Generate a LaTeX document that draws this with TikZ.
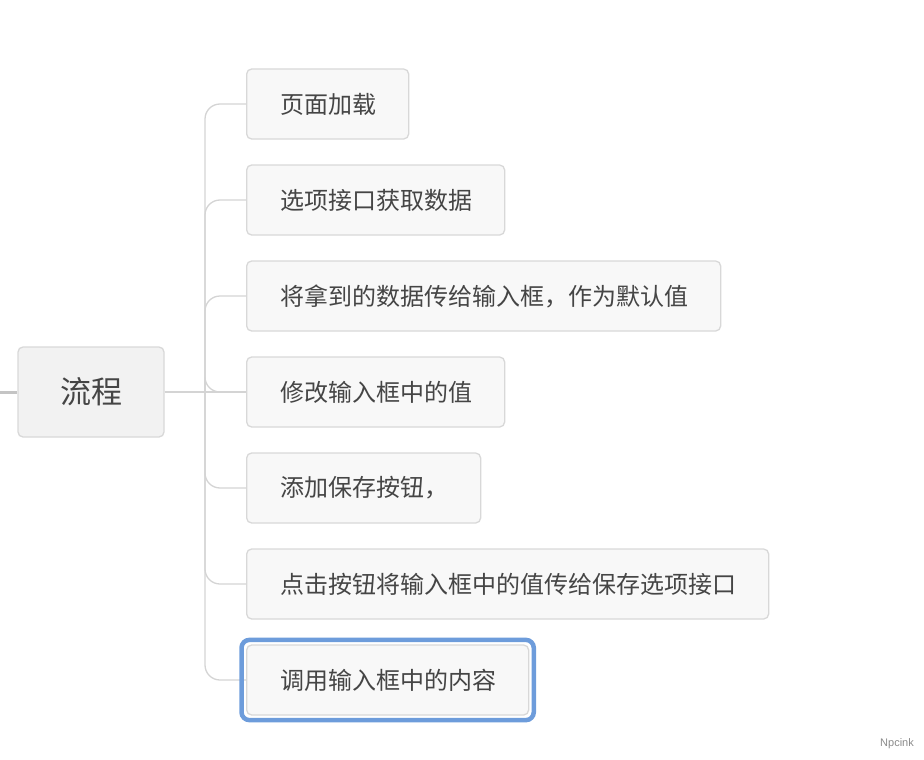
\documentclass[tikz,border=0pt]{standalone}
\usepackage{fontspec}
\setmainfont{Noto Sans CJK SC}
\newfontfamily\signfont{Liberation Sans}
\usepackage{xcolor}
\usepackage{tikz}
\usetikzlibrary{positioning,fit}
\definecolor{boxbg}{HTML}{F8F8F8}
\definecolor{rootbg}{HTML}{F2F2F2}
\definecolor{edge}{HTML}{D8D8D8}
\definecolor{txt}{HTML}{454545}
\definecolor{wire}{HTML}{D4D4D4}
\definecolor{stubc}{HTML}{C4C4C4}
\definecolor{sel}{HTML}{6D9CDB}
\definecolor{signc}{HTML}{8A8A8A}
\tikzset{
  topic/.style={draw=edge, fill=boxbg, line width=1.3pt, rounded corners=5pt, text=txt,
    font=\fontsize{24}{30}\selectfont, minimum height=70pt, inner xsep=34pt, align=left, anchor=west},
  root/.style={draw=edge, fill=rootbg, line width=1.3pt, rounded corners=5pt, text=txt,
    font=\fontsize{31}{36}\selectfont, minimum width=146pt, minimum height=90pt, inner sep=0pt},
  link/.style={draw=wire, line width=1.3pt, rounded corners=15pt},
  stub/.style={draw=stubc, line width=3pt},
  hilite/.style={draw=sel, line width=4.5pt, rounded corners=8pt},
  tag/.style={text=signc, font=\signfont\fontsize{11}{13}\selectfont},
}
\begin{document}
\begin{tikzpicture}[x=1pt,y=-1pt]
  \useasboundingbox (0,0) rectangle (924,760);

  % root and the stub on its left
  \coordinate (edgeL) at (0,392);
  \node[root] (flow) at (91,392) {流程};
  \draw[stub] (edgeL) -- (flow.west);

  % steps, with their box widths
  \foreach \i/\w/\txt in {1/162/页面加载, 2/258/选项接口获取数据,
      3/474/将拿到的数据传给输入框，作为默认值, 4/258/修改输入框中的值,
      5/234/添加保存按钮，, 6/522/点击按钮将输入框中的值传给保存选项接口,
      7/282/调用输入框中的内容}
    \node[topic, text width={(\w-68)*1pt}] (s\i) at (246,{8+96*\i}) {\txt};

  % connectors
  \coordinate (fork) at (205,392);
  \draw[link] (flow.east) -- (s4.west);
  \foreach \i in {1,...,7}
    \draw[link] (fork) |- (s\i.west);

  % selected step
  \node[hilite, fit=(s7), inner sep=4.5pt] (pick) {};

  \node[tag] (sign) at (897,744) {Npcink};
\end{tikzpicture}
\end{document}
